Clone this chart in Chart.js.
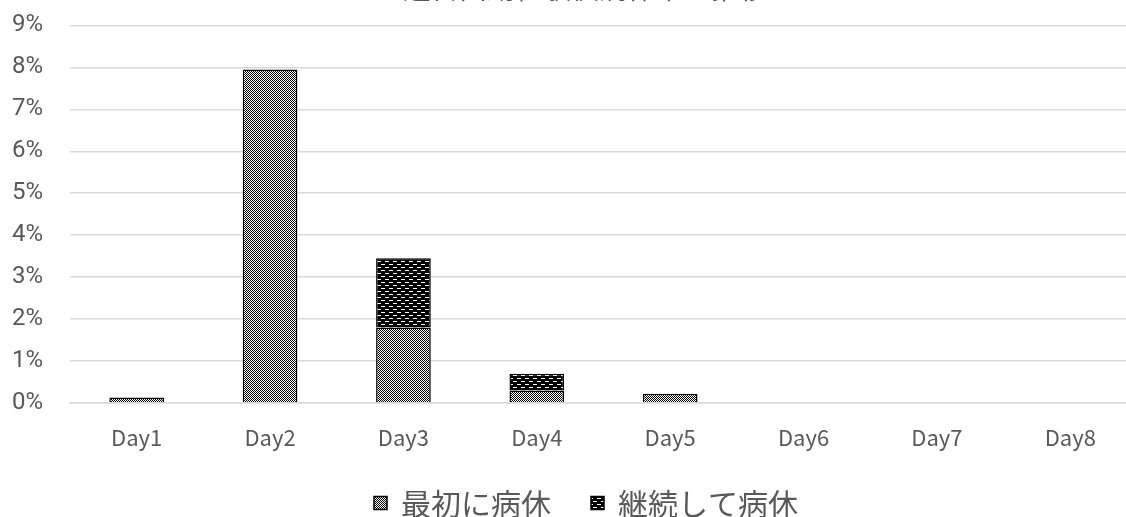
<!DOCTYPE html>
<html>
<head>
<meta charset="utf-8">
<script src="https://cdn.jsdelivr.net/npm/chart.js@4"></script>
<style>
  html, body { margin: 0; padding: 0; background: #fff; overflow: hidden; width: 1126px; height: 517px; }
  /* el original está recortado arriba y a la derecha */
  #wrap { width: 1140px; height: 533px; margin-top: -16px; }
</style>
</head>
<body>
<div id="wrap"><canvas id="chart"></canvas></div>
<script>
// datos del gráfico
var titulo = '連日出勤経験後病休率の推移';
var dias = ['Day1', 'Day2', 'Day3', 'Day4', 'Day5', 'Day6', 'Day7', 'Day8'];
var nombresSeries = ['最初に病休', '継続して病休'];
var primerPorc = [0.0013, 0.0795, 0.018, 0.003, 0.0022, 0, 0, 0];
var continuoPorc = [0, 0, 0.0165, 0.004, 0, 0, 0, 0];
var ticksY = [0, 0.01, 0.02, 0.03, 0.04, 0.05, 0.06, 0.07, 0.08, 0.09];

// patrón tipo ajedrez (gris)
function patronAjedrez() {
    var c = document.createElement('canvas');
    c.width = 4; c.height = 4;
    var g = c.getContext('2d');
    g.fillStyle = '#fff'; g.fillRect(0, 0, 4, 4);
    g.fillStyle = '#000';
    g.fillRect(0, 0, 1, 1); g.fillRect(2, 0, 1, 1);
    g.fillRect(1, 1, 1, 1); g.fillRect(3, 1, 1, 1);
    g.fillRect(0, 2, 1, 1); g.fillRect(2, 2, 1, 1);
    g.fillRect(1, 3, 1, 1); g.fillRect(3, 3, 1, 1);
    return g.createPattern(c, 'repeat');
}

// patrón negro con guiones blancos
function patronGuiones() {
    var c = document.createElement('canvas');
    c.width = 8; c.height = 6;
    var g = c.getContext('2d');
    g.fillStyle = '#000'; g.fillRect(0, 0, 8, 6);
    g.fillStyle = '#fff';
    g.fillRect(1, 1, 4, 1);
    g.fillRect(5, 4, 3, 1);
    g.fillRect(0, 4, 1, 1);
    return g.createPattern(c, 'repeat');
}

// título (sólo se ve la parte de abajo)
var tituloPlugin = {
    id: 'tituloRecortado',
    afterDraw: function (chart) {
        var ctx = chart.ctx;
        ctx.save();
        ctx.font = '28px "Noto Sans CJK JP"';
        ctx.fillStyle = '#595959';
        ctx.textAlign = 'center';
        ctx.textBaseline = 'alphabetic';
        ctx.fillText(titulo, 585, 15);
        ctx.restore();
    }
};

// leyenda propia debajo del eje x
var leyendaPlugin = {
    id: 'leyendaPropia',
    afterDraw: function (chart) {
        var ctx = chart.ctx;
        var caja = 13, hueco = 14, separa = 40, cy = 519;
        ctx.save();
        ctx.font = '30px "Noto Sans CJK JP"';
        ctx.textBaseline = 'middle';
        ctx.textAlign = 'left';
        var anchos = nombresSeries.map(function (n) { return ctx.measureText(n).width; });
        var total = 0;
        anchos.forEach(function (w, i) { total += caja + hueco + w + (i > 0 ? separa : 0); });
        var x = 586 - total / 2;
        chart.data.datasets.forEach(function (ds, i) {
            ctx.fillStyle = ds.backgroundColor;
            ctx.fillRect(x, cy - caja / 2, caja, caja);
            ctx.strokeStyle = '#000';
            ctx.lineWidth = 1.5;
            ctx.strokeRect(x, cy - caja / 2, caja, caja);
            ctx.fillStyle = '#595959';
            ctx.fillText(nombresSeries[i], x + caja + hueco, cy + 1);
            x += caja + hueco + anchos[i] + separa;
        });
        ctx.restore();
    }
};

var ctx = document.getElementById('chart').getContext('2d');
var grafico = new Chart(ctx, {
    type: 'bar',
    data: {
        labels: dias,
        datasets: [{
            label: nombresSeries[0],
            data: primerPorc,
            backgroundColor: patronAjedrez(),
            borderColor: '#000',
            borderWidth: 1.5,
            barPercentage: 0.41,
            categoryPercentage: 1
        }, {
            label: nombresSeries[1],
            data: continuoPorc,
            backgroundColor: patronGuiones(),
            borderColor: '#000',
            borderWidth: 1.5,
            barPercentage: 0.41,
            categoryPercentage: 1
        }]
    },
    options: {
        responsive: true,
        maintainAspectRatio: false,
        animation: false,
        layout: { padding: { top: 0, left: 0, right: 3, bottom: 54 } },
        plugins: {
            legend: { display: false },
            tooltip: { enabled: false }
        },
        scales: {
            x: {
                stacked: true,
                grid: { display: false, drawTicks: false },
                border: { color: '#d9d9d9', width: 1.5 },
                ticks: {
                    color: '#595959',
                    font: { size: 22, family: '"Noto Sans CJK JP"' },
                    padding: 21
                },
                afterFit: function (s) { s.height = 60; }
            },
            y: {
                stacked: true,
                min: 0,
                max: 0.09,
                afterBuildTicks: function (s) {
                    s.ticks = ticksY.map(function (v) { return { value: v }; });
                },
                grid: { color: '#d9d9d9', lineWidth: 1.5, drawTicks: false },
                border: { display: false },
                ticks: {
                    color: '#595959',
                    font: { size: 24, family: 'Roboto' },
                    padding: 27,
                    callback: function (v) { return Math.round(v * 100) + '%'; }
                },
                afterFit: function (s) { s.width = 70; }
            }
        }
    },
    plugins: [tituloPlugin, leyendaPlugin]
});
</script>
</body>
</html>
